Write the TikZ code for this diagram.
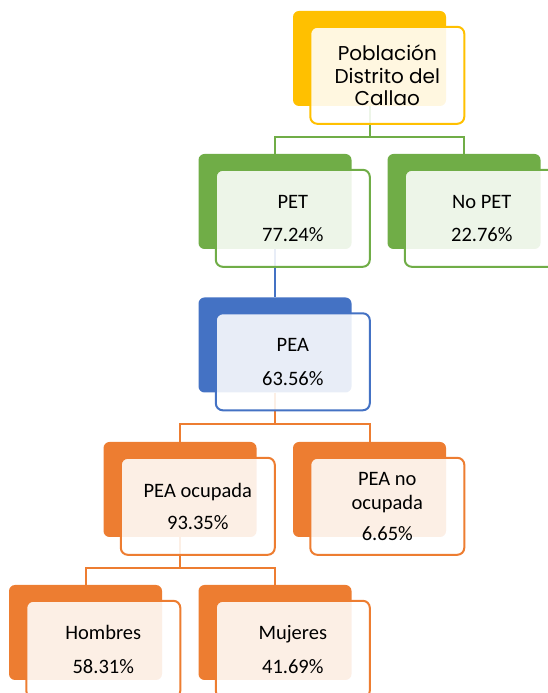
\documentclass[tikz,border=0pt]{standalone}
\usepackage{fontspec}
\setmainfont{Carlito}
\newfontfamily\geofont{Poppins}
\usetikzlibrary{positioning,backgrounds}
\definecolor{orgYellow}{HTML}{FFC000}
\definecolor{orgGreen}{HTML}{70AD47}
\definecolor{orgBlue}{HTML}{4472C4}
\definecolor{orgOrange}{HTML}{ED7D31}

\begin{document}
\begin{tikzpicture}[
  x=1pt, y=1pt,
  backbox/.style={fill=#1, rounded corners=6pt, minimum width=153pt,
              minimum height=95pt, inner sep=0pt},
  frontbox/.style={draw=#1, line width=2pt, fill=white, fill opacity=0.88,
              text opacity=1, rounded corners=7pt, minimum width=154pt,
              minimum height=97pt, inner sep=2pt, align=center, anchor=north west,
              font=\fontsize{20.5}{24.5}\selectfont},
  link/.style={draw=#1, line width=2pt}
]
\useasboundingbox (0,0) rectangle (548,693);

% coloured tabs behind the cards
\node[backbox=orgYellow] (popb)   at (369.5,634.5) {};
\node[backbox=orgGreen]  (petb)   at (275,491.5) {};
\node[backbox=orgGreen]  (nopetb) at (464,491.5) {};
\node[backbox=orgBlue]   (peab)   at (275,348) {};
\node[backbox=orgOrange] (ocub)   at (180,203.5) {};
\node[backbox=orgOrange] (noocub) at (369.5,203.5) {};
\node[backbox=orgOrange] (homb)   at (85.5,60.5) {};
\node[backbox=orgOrange] (mujb)   at (275,60.5) {};

% cards
\node[frontbox=orgYellow, font=\geofont\fontsize{20}{22.5}\selectfont] (pop)
  at ([shift={(16.5,-15)}]popb.north west) {Población\\Distrito del\\Callao};
\node[frontbox=orgGreen] (pet) at ([shift={(16.5,-15)}]petb.north west)
  {PET\\[9pt]77.24\%};
\node[frontbox=orgGreen] (nopet) at ([shift={(16.5,-15)}]nopetb.north west)
  {No PET\\[9pt]22.76\%};
\node[frontbox=orgBlue] (pea) at ([shift={(16.5,-15)}]peab.north west)
  {PEA\\[9pt]63.56\%};
\node[frontbox=orgOrange] (ocu) at ([shift={(16.5,-15)}]ocub.north west)
  {PEA ocupada\\[8pt]93.35\%};
\node[frontbox=orgOrange] (noocu) at ([shift={(16.5,-15)}]noocub.north west)
  {PEA no\\ocupada\\[6pt]6.65\%};
\node[frontbox=orgOrange] (hom) at ([shift={(16.5,-15)}]homb.north west)
  {Hombres\\[9pt]58.31\%};
\node[frontbox=orgOrange] (muj) at ([shift={(16.5,-15)}]mujb.north west)
  {Mujeres\\[9pt]41.69\%};

\begin{scope}[on background layer]
\draw[link=orgGreen] (popb.south) -- ++(0,-31) -| (petb.north);
\draw[link=orgGreen] (popb.south) -- ++(0,-31) -| (nopetb.north);
\draw[link=orgBlue] (petb.south) -- (peab.north);
\draw[link=orgOrange] (peab.south) -- ++(0,-31) -| (ocub.north);
\draw[link=orgOrange] (peab.south) -- ++(0,-31) -| (noocub.north);
\draw[link=orgOrange] (ocub.south) -- ++(0,-31) -| (homb.north);
\draw[link=orgOrange] (ocub.south) -- ++(0,-31) -| (mujb.north);
\end{scope}
\end{tikzpicture}
\end{document}
